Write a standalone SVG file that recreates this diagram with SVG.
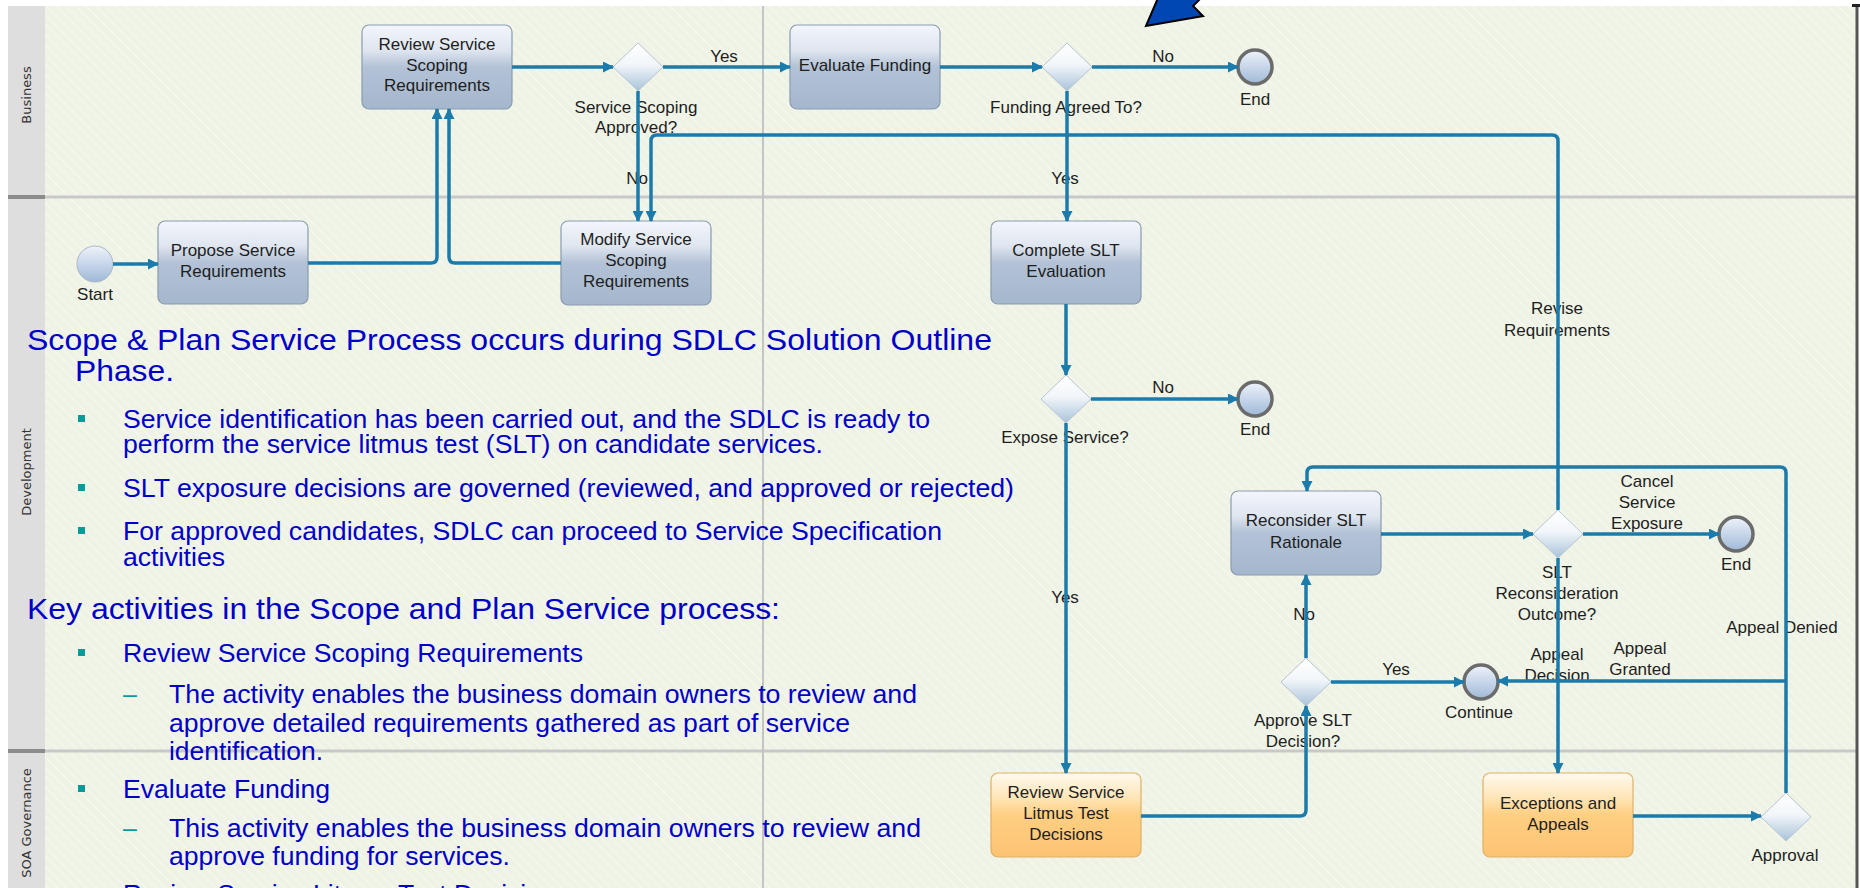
<svg xmlns="http://www.w3.org/2000/svg" width="1860" height="888" viewBox="0 0 1860 888">
<style>
.lbl{font-family:"Liberation Sans",Arial,sans-serif;font-size:17px;fill:#1e1e1e;text-anchor:middle}
.lane{font-family:"DejaVu Sans",Verdana,sans-serif;font-size:13px;fill:#333;text-anchor:middle}
.task{fill:url(#gTask);stroke:#8a9bb0;stroke-width:1.2}
.otask{fill:url(#gOrange);stroke:#e2b064;stroke-width:1.2}
.gw{fill:url(#gGw);stroke:#b8c4d0;stroke-width:1}
.ev{fill:url(#gEv);stroke:#6b6b6b;stroke-width:3.5}
.st{fill:url(#gEv);stroke:#a8b8c8;stroke-width:1}
.cn path{fill:none;stroke:#1b7bab;stroke-width:3.5;marker-end:url(#ah)}
.ov{font-family:"Liberation Sans Narrow","Liberation Sans",Arial,sans-serif;fill:#0000c8;font-size:25px}
.ovt{font-size:30px}
.bul{fill:#0a9a9a}
.dash{font-family:"Liberation Sans",Arial,sans-serif;font-size:25px;fill:#0a9a9a}
</style>
<defs>
<pattern id="hatch" width="7" height="7" patternUnits="userSpaceOnUse" patternTransform="rotate(-45)">
<rect width="7" height="7" fill="#eef3e5"/>
<line x1="0" y1="0" x2="0" y2="7" stroke="#f7f9f1" stroke-width="2"/>
</pattern>
<linearGradient id="gTask" x1="0" y1="0" x2="0" y2="1">
<stop offset="0" stop-color="#f3f6fb"/>
<stop offset="0.3" stop-color="#dfe6f0"/>
<stop offset="0.5" stop-color="#b3c2d6"/>
<stop offset="1" stop-color="#a5b7cd"/>
</linearGradient>
<linearGradient id="gOrange" x1="0" y1="0" x2="0" y2="1">
<stop offset="0" stop-color="#fffaf0"/>
<stop offset="0.3" stop-color="#ffe5b6"/>
<stop offset="0.5" stop-color="#ffcf82"/>
<stop offset="1" stop-color="#fcc373"/>
</linearGradient>
<linearGradient id="gGw" x1="0" y1="0" x2="0" y2="1">
<stop offset="0" stop-color="#ffffff"/>
<stop offset="0.45" stop-color="#f2f6fa"/>
<stop offset="1" stop-color="#a9c3da"/>
</linearGradient>
<linearGradient id="gEv" x1="0" y1="0" x2="0" y2="1">
<stop offset="0" stop-color="#eef3fa"/>
<stop offset="0.5" stop-color="#c7d6ea"/>
<stop offset="1" stop-color="#9fb8d6"/>
</linearGradient>
<marker id="ah" markerWidth="11" markerHeight="11" refX="10" refY="5.5" orient="auto" markerUnits="userSpaceOnUse">
<path d="M0,0 L11,5.5 L0,11 z" fill="#1b7bab"/>
</marker>
</defs>

<!-- background -->
<rect x="0" y="0" width="1860" height="888" fill="#ffffff"/>
<rect x="8" y="6" width="1850" height="882" fill="url(#hatch)"/>
<!-- lane headers -->
<rect x="8" y="6" width="37" height="882" fill="#dedede"/>
<line x1="8" y1="197" x2="1856" y2="197" stroke="#c8c8c8" stroke-width="3"/>
<line x1="8" y1="751" x2="1856" y2="751" stroke="#c8c8c8" stroke-width="3"/>
<line x1="8" y1="197" x2="45" y2="197" stroke="#8c8c8c" stroke-width="4"/>
<line x1="8" y1="751" x2="45" y2="751" stroke="#8c8c8c" stroke-width="4"/>
<line x1="763" y1="6" x2="763" y2="888" stroke="#c4c4c4" stroke-width="2"/>
<line x1="1857" y1="6" x2="1857" y2="888" stroke="#555" stroke-width="3"/>
<rect x="1852" y="4" width="8" height="3" fill="#222"/>
<text class="lane" transform="translate(31,95) rotate(-90)">Business</text>
<text class="lane" transform="translate(31,472) rotate(-90)">Development</text>
<text class="lane" transform="translate(31,823) rotate(-90)">SOA Governance</text>

<!-- nodes -->
<g id="start"><circle class="st" cx="95" cy="264" r="18"/><text class="lbl" x="95" y="300">Start</text></g>
<g id="propose"><rect class="task" x="158" y="221" width="150" height="83" rx="7"/><text class="lbl" x="233" y="256">Propose Service</text><text class="lbl" x="233" y="277">Requirements</text></g>
<g id="review-scoping"><rect class="task" x="362" y="25" width="150" height="84" rx="7"/><text class="lbl" x="437" y="50">Review Service</text><text class="lbl" x="437" y="71">Scoping</text><text class="lbl" x="437" y="91">Requirements</text></g>
<g id="gw-scoping"><polygon class="gw" points="638,43 663,67 638,91 613,67"/><text class="lbl" x="636" y="113">Service Scoping</text><text class="lbl" x="636" y="133">Approved?</text></g>
<g id="evaluate-funding"><rect class="task" x="790" y="25" width="150" height="84" rx="7"/><text class="lbl" x="865" y="71">Evaluate Funding</text></g>
<g id="gw-funding"><polygon class="gw" points="1067,43 1092,67 1067,91 1042,67"/><text class="lbl" x="1066" y="113">Funding Agreed To?</text></g>
<g id="end-funding"><circle class="ev" cx="1255" cy="67" r="17"/><text class="lbl" x="1255" y="105">End</text></g>
<g id="modify-scoping"><rect class="task" x="561" y="221" width="150" height="84" rx="7"/><text class="lbl" x="636" y="245">Modify Service</text><text class="lbl" x="636" y="266">Scoping</text><text class="lbl" x="636" y="287">Requirements</text></g>
<g id="complete-slt"><rect class="task" x="991" y="221" width="150" height="83" rx="7"/><text class="lbl" x="1066" y="256">Complete SLT</text><text class="lbl" x="1066" y="277">Evaluation</text></g>
<g id="gw-expose"><polygon class="gw" points="1066,375 1091,399 1066,423 1041,399"/><text class="lbl" x="1065" y="443">Expose Service?</text></g>
<g id="end-expose"><circle class="ev" cx="1255" cy="399" r="17"/><text class="lbl" x="1255" y="435">End</text></g>
<g id="reconsider"><rect class="task" x="1231" y="491" width="150" height="84" rx="7"/><text class="lbl" x="1306" y="526">Reconsider SLT</text><text class="lbl" x="1306" y="548">Rationale</text></g>
<g id="gw-slt"><polygon class="gw" points="1558,510 1583,534 1558,558 1533,534"/><text class="lbl" x="1557" y="578">SLT</text><text class="lbl" x="1557" y="599">Reconsideration</text><text class="lbl" x="1557" y="620">Outcome?</text></g>
<g id="end-cancel"><circle class="ev" cx="1736" cy="534" r="17"/><text class="lbl" x="1736" y="570">End</text></g>
<g id="gw-approve"><polygon class="gw" points="1306,658 1331,682 1306,706 1281,682"/><text class="lbl" x="1303" y="726">Approve SLT</text><text class="lbl" x="1303" y="747">Decision?</text></g>
<g id="continue"><circle class="ev" cx="1481" cy="682" r="17"/><text class="lbl" x="1479" y="718">Continue</text></g>
<g id="review-litmus"><rect class="otask" x="991" y="773" width="150" height="84" rx="7"/><text class="lbl" x="1066" y="798">Review Service</text><text class="lbl" x="1066" y="819">Litmus Test</text><text class="lbl" x="1066" y="840">Decisions</text></g>
<g id="exceptions"><rect class="otask" x="1483" y="773" width="150" height="84" rx="7"/><text class="lbl" x="1558" y="809">Exceptions and</text><text class="lbl" x="1558" y="830">Appeals</text></g>
<g id="gw-approval"><polygon class="gw" points="1786,793 1811,817 1786,841 1761,817"/><text class="lbl" x="1785" y="861">Approval</text></g>

<!-- connector labels -->
<g id="edge-labels">
<text class="lbl" x="724" y="62">Yes</text>
<text class="lbl" x="1163" y="62">No</text>
<text class="lbl" x="637" y="184">No</text>
<text class="lbl" x="1065" y="184">Yes</text>
<text class="lbl" x="1163" y="393">No</text>
<text class="lbl" x="1065" y="603">Yes</text>
<text class="lbl" x="1304" y="620">No</text>
<text class="lbl" x="1396" y="675">Yes</text>
<text class="lbl" x="1557" y="314">Revise</text>
<text class="lbl" x="1557" y="336">Requirements</text>
<text class="lbl" x="1647" y="487">Cancel</text>
<text class="lbl" x="1647" y="508">Service</text>
<text class="lbl" x="1647" y="529">Exposure</text>
<text class="lbl" x="1557" y="660">Appeal</text>
<text class="lbl" x="1557" y="681">Decision</text>
<text class="lbl" x="1640" y="654">Appeal</text>
<text class="lbl" x="1640" y="675">Granted</text>
<text class="lbl" x="1782" y="633">Appeal Denied</text>
</g>

<!-- connectors -->
<g id="connectors" class="cn">
<path d="M113,264 H158"/>
<path d="M308,263 H431 Q437,263 437,257 V109"/>
<path d="M561,263 H455 Q449,263 449,257 V109"/>
<path d="M512,67 H613"/>
<path d="M663,67 H790"/>
<path d="M638,91 V221"/>
<path d="M940,67 H1042"/>
<path d="M1092,67 H1238"/>
<path d="M1067,91 V221"/>
<path d="M1066,304 V375"/>
<path d="M1091,399 H1238"/>
<path d="M1066,423 V773"/>
<path d="M1141,816 H1300 Q1306,816 1306,810 V706"/>
<path d="M1306,658 V575"/>
<path d="M1331,682 H1464"/>
<path d="M1381,534 H1533"/>
<path d="M1583,534 H1719"/>
<path d="M1558,510 V141 Q1558,135 1552,135 H657 Q651,135 651,141 V221"/>
<path d="M1558,558 V773"/>
<path d="M1633,816 H1761"/>
<path d="M1786,793 V473 Q1786,467 1780,467 H1313 Q1307,467 1307,473 V491"/>
<path d="M1786,681 H1498"/>
</g>

<!-- callout arrow -->
<polygon points="1146,26 1158,-2 1201,-2 1193,6 1203,16" fill="#0047b3" stroke="#000" stroke-width="2" stroke-linejoin="miter"/>

<!-- overlay text -->
<g id="overlay-text">
<text class="ov ovt" x="27" y="350" textLength="965" lengthAdjust="spacingAndGlyphs">Scope &amp; Plan Service Process occurs during SDLC Solution Outline</text>
<text class="ov ovt" x="75" y="381" textLength="99" lengthAdjust="spacingAndGlyphs">Phase.</text>
<rect class="bul" x="78" y="415" width="7" height="7"/>
<text class="ov" x="123" y="428" textLength="807" lengthAdjust="spacingAndGlyphs">Service identification has been carried out, and the SDLC is ready to</text>
<text class="ov" x="123" y="453" textLength="700" lengthAdjust="spacingAndGlyphs">perform the service litmus test (SLT) on candidate services.</text>
<rect class="bul" x="78" y="484" width="7" height="7"/>
<text class="ov" x="123" y="497" textLength="891" lengthAdjust="spacingAndGlyphs">SLT exposure decisions are governed (reviewed, and approved or rejected)</text>
<rect class="bul" x="78" y="527" width="7" height="7"/>
<text class="ov" x="123" y="540" textLength="819" lengthAdjust="spacingAndGlyphs">For approved candidates, SDLC can proceed to Service Specification</text>
<text class="ov" x="123" y="566" textLength="102" lengthAdjust="spacingAndGlyphs">activities</text>
<text class="ov ovt" x="27" y="619" textLength="753" lengthAdjust="spacingAndGlyphs">Key activities in the Scope and Plan Service process:</text>
<rect class="bul" x="78" y="649" width="7" height="7"/>
<text class="ov" x="123" y="662" textLength="460" lengthAdjust="spacingAndGlyphs">Review Service Scoping Requirements</text>
<text class="dash" x="123" y="703">–</text>
<text class="ov" x="169" y="703" textLength="748" lengthAdjust="spacingAndGlyphs">The activity enables the business domain owners to review and</text>
<text class="ov" x="169" y="732" textLength="681" lengthAdjust="spacingAndGlyphs">approve detailed requirements gathered as part of service</text>
<text class="ov" x="169" y="760" textLength="154" lengthAdjust="spacingAndGlyphs">identification.</text>
<rect class="bul" x="78" y="785" width="7" height="7"/>
<text class="ov" x="123" y="798" textLength="207" lengthAdjust="spacingAndGlyphs">Evaluate Funding</text>
<text class="dash" x="123" y="837">–</text>
<text class="ov" x="169" y="837" textLength="752" lengthAdjust="spacingAndGlyphs">This activity enables the business domain owners to review and</text>
<text class="ov" x="169" y="865" textLength="341" lengthAdjust="spacingAndGlyphs">approve funding for services.</text>
<text class="ov" x="123" y="903" textLength="446" lengthAdjust="spacingAndGlyphs">Review Service Litmus Test Decisions</text>
</g>
</svg>
